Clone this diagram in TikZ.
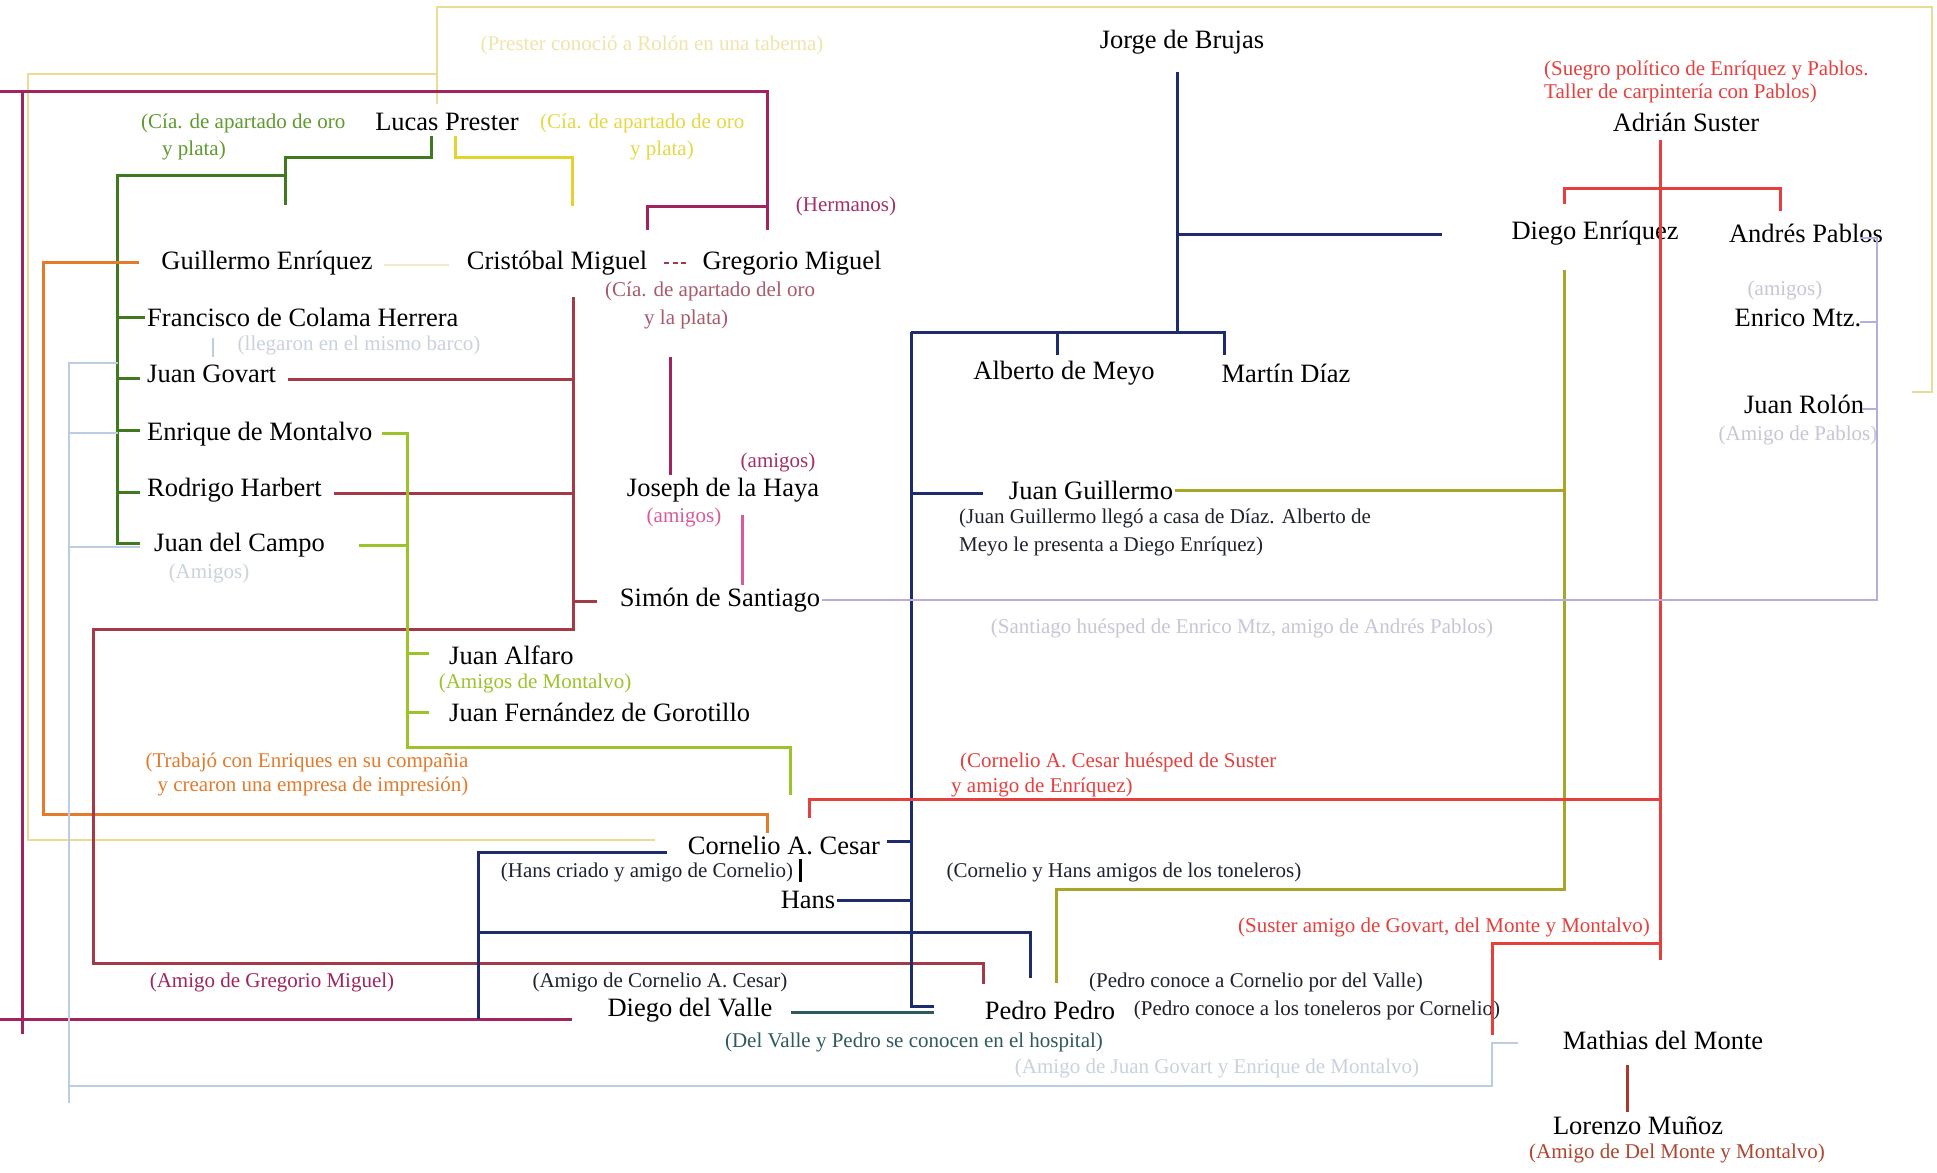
\documentclass[tikz,border=0pt]{standalone}
\usepackage{fontspec}
\setmainfont{Liberation Serif}
\definecolor{cYP}{HTML}{EBDC95}
\definecolor{cYPt}{HTML}{F0E4AC}
\definecolor{cPu}{HTML}{A0245E}
\definecolor{cPuT}{HTML}{A3306A}
\definecolor{cGr}{HTML}{3F7A1F}
\definecolor{cGrT}{HTML}{5E9A2E}
\definecolor{cYe}{HTML}{E3D32C}
\definecolor{cYeT}{HTML}{E6D845}
\definecolor{cOr}{HTML}{E27B2C}
\definecolor{cPB}{HTML}{BACDE4}
\definecolor{cPBt}{HTML}{C9D2DE}
\definecolor{cMa}{HTML}{A33A45}
\definecolor{cYG}{HTML}{9CC32B}
\definecolor{cNa}{HTML}{1E2C6E}
\definecolor{cOl}{HTML}{A9A52A}
\definecolor{cRe}{HTML}{E5403E}
\definecolor{cLa}{HTML}{B9ABDA}
\definecolor{cLaT}{HTML}{CAC4D8}
\definecolor{cPi}{HTML}{D95A9C}
\definecolor{cCr}{HTML}{EEEACB}
\definecolor{cBr}{HTML}{A8382E}
\definecolor{cBrT}{HTML}{B0452F}
\definecolor{cTe}{HTML}{2F5A5C}
\definecolor{cDk}{HTML}{1F2230}
\definecolor{cMv}{HTML}{A85A6A}
\begin{document}
\begin{tikzpicture}[x=1pt,y=-1pt,
  nm/.style={font=\fontsize{26.5}{30}\selectfont, inner sep=2pt, text=black},
  nt/.style={font=\fontsize{21}{26}\selectfont, inner sep=1pt},
  ln/.style={line width=3pt},
  lnthin/.style={line width=2.3pt}]
\fill[white] (0,0) rectangle (1937,1172);
\useasboundingbox (0,0) rectangle (1937,1172);

% ---------- names ----------
\node[nm] (jorge) at (1182,42) {Jorge de Brujas};
\node[nm] (lucas) at (447,122) {Lucas Prester};
\node[nm] (suster) at (1686,122) {Adrián Suster};
\node[nm] (guillermo) at (267,263) {Guillermo Enríquez};
\node[nm] (cristobal) at (557,263) {Cristóbal Miguel};
\node[nm] (gregorio) at (792,263) {Gregorio Miguel};
\node[nm] (diegoe) at (1595,233) {Diego Enríquez};
\node[nm] (andres) at (1806,233) {Andrés Pablos};
\node[nm,anchor=west] (francisco) at (145,317) {Francisco de Colama Herrera};
\node[nm,anchor=west] (govart) at (145,374) {Juan Govart};
\node[nm,anchor=west] (montalvo) at (145,434) {Enrique de Montalvo};
\node[nm,anchor=west] (rodrigo) at (145,490) {Rodrigo Harbert};
\node[nm,anchor=west] (campo) at (152,545) {Juan del Campo};
\node[nm] (alberto) at (1064,373) {Alberto de Meyo};
\node[nm] (martin) at (1286,373) {Martín Díaz};
\node[nm] (enrico) at (1798,318) {Enrico Mtz.};
\node[nm] (rolon) at (1804,404) {Juan Rolón};
\node[nm] (joseph) at (723,490) {Joseph de la Haya};
\node[nm] (jguillermo) at (1091,490) {Juan Guillermo};
\node[nm] (simon) at (720,600) {Simón de Santiago};
\node[nm,anchor=west] (alfaro) at (447,655) {Juan Alfaro};
\node[nm,anchor=west] (fernandez) at (447,712) {Juan Fernández de Gorotillo};
\node[nm] (cornelio) at (784,845) {Cornelio A. Cesar};
\node[nm] (hans) at (808,900) {Hans};
\node[nm] (diegov) at (690,1010) {Diego del Valle};
\node[nm] (pedro) at (1050,1010) {Pedro Pedro};
\node[nm] (mathias) at (1663,1040) {Mathias del Monte};
\node[nm] (lorenzo) at (1638,1126) {Lorenzo Muñoz};

% ---------- notes ----------
\node[nt,text=cYPt] (nprester) at (652,45) {(Prester conoció a Rolón en una taberna)};
\node[nt,text=cGrT,align=left,anchor=west,font=\fontsize{21}{27}\selectfont] (ncia1) at (140,137) {(Cía. de apartado de oro\\\hspace*{21pt}y plata)};
\node[nt,text=cYeT,align=left,anchor=west,font=\fontsize{21}{27}\selectfont] (ncia2) at (539,137) {(Cía. de apartado de oro\\\hspace*{90pt}y plata)};
\node[nt,text=cPuT] (nherm) at (846,206) {(Hermanos)};
\node[nt,text=cMv,align=left,anchor=west,font=\fontsize{21}{28}\selectfont] (ncia3) at (604,305) {(Cía. de apartado del oro\\\hspace*{39pt}y la plata)};
\node[nt,text=cPBt] (nbarco) at (359,345) {(llegaron en el mismo barco)};
\node[nt,text=cRe,align=left,anchor=west,font=\fontsize{21}{23}\selectfont] (nsuegro) at (1543,82) {(Suegro político de Enríquez y Pablos.\\Taller de carpintería con Pablos)};
\node[nt,text=cLaT] (namigosE) at (1785,290) {(amigos)};
\node[nt,text=cLaT] (npablos) at (1798,435) {(Amigo de Pablos)};
\node[nt,text=cPuT] (namigosJ1) at (778,462) {(amigos)};
\node[nt,text=cPi] (namigosJ2) at (684,517) {(amigos)};
\node[nt,text=cDk,align=left,anchor=west,font=\fontsize{21}{28}\selectfont] (njg) at (958,532) {(Juan Guillermo llegó a casa de Díaz. Alberto de\\Meyo le presenta a Diego Enríquez)};
\node[nt,text=cPBt] (namigosC) at (209,573) {(Amigos)};
\node[nt,text=cLaT] (nsantiago) at (1242,628) {(Santiago huésped de Enrico Mtz, amigo de Andrés Pablos)};
\node[nt,text=cYG] (nmontalvo) at (535,683) {(Amigos de Montalvo)};
\node[nt,text=cOr,align=center,font=\fontsize{21}{24}\selectfont] (ntrabajo) at (307,774) {(Trabajó con Enriques en su compañia\\\hspace*{12pt}y crearon una empresa de impresión)};
\node[nt,text=cRe,align=left,anchor=west,font=\fontsize{21}{25}\selectfont] (ncorn) at (950,775) {\hspace*{9pt}(Cornelio A. Cesar huésped de Suster\\y amigo de Enríquez)};
\node[nt,text=cDk] (nhans) at (647,872) {(Hans criado y amigo de Cornelio)};
\node[nt,text=cDk] (ntoneleros) at (1124,872) {(Cornelio y Hans amigos de los toneleros)};
\node[nt,text=cRe] (nsuster) at (1444,927) {(Suster amigo de Govart, del Monte y Montalvo)};
\node[nt,text=cPu] (ngregorio) at (272,982) {(Amigo de Gregorio Miguel)};
\node[nt,text=cDk] (ncamigo) at (660,982) {(Amigo de Cornelio A. Cesar)};
\node[nt,text=cDk] (npedro1) at (1256,982) {(Pedro conoce a Cornelio por del Valle)};
\node[nt,text=cDk] (npedro2) at (1317,1010) {(Pedro conoce a los toneleros por Cornelio)};
\node[nt,text=cTe] (nhospital) at (914,1042) {(Del Valle y Pedro se conocen en el hospital)};
\node[nt,text=cPBt] (ngovart) at (1217,1068) {(Amigo de Juan Govart y Enrique de Montalvo)};
\node[nt,text=cBrT] (nlorenzo) at (1677,1153) {(Amigo de Del Monte y Montalvo)};

% ---------- connectors ----------
% pale yellow (Prester - Rolon / Cornelio)
\draw[lnthin,cYP] (437,104) -- (437,7) -- (1932,7) -- (1932,392) -- (1912,392);
\draw[lnthin,cYP] (437,74) -- (28,74) -- (28,840) -- (655,840);
% purple
\draw[ln,cPu] (0,91) -- (767,91) -- (767,230);
\draw[ln,cPu] (647,230) -- (647,206) -- (767,206);
\draw[ln,cPu] (22,91) -- (22,1034);
\draw[ln,cPu] (0,1019) -- (572,1019);
\draw[ln,cPu] (670,357) -- (670,475);
\draw[line width=1.8pt,cMa,dash pattern=on 5pt off 3.5pt] (664,263) -- (687,263);
% cream
\draw[lnthin,cCr] (384,265) -- (449,265);
% green
\draw[ln,cGr] (431,136) -- (431,157) -- (285,157) -- (285,205);
\draw[ln,cGr] (285,175) -- (117,175) -- (117,543) -- (140,543);
\draw[ln,cGr] (117,317) -- (francisco.west);
\draw[ln,cGr] (117,378) -- (140,378);
\draw[ln,cGr] (117,430) -- (140,430);
\draw[ln,cGr] (117,492) -- (140,492);
% yellow
\draw[ln,cYe] (455,136) -- (455,157) -- (572,157) -- (572,206);
% orange
\draw[ln,cOr] (139,262) -- (43,262) -- (43,814) -- (767,814) -- (767,833);
% pale blue
\draw[lnthin,cPB] (213,338) -- (213,357);
\draw[lnthin,cPB] (118,363) -- (69,363) -- (69,1103);
\draw[lnthin,cPB] (69,433) -- (118,433);
\draw[lnthin,cPB] (69,547) -- (140,547);
\draw[lnthin,cPB] (69,1086) -- (1492,1086) -- (1492,1043) -- (1518,1043);
% maroon
\draw[ln,cMa] (288,379) -- (573,379);
\draw[ln,cMa] (573,297) -- (573,629) -- (93,629) -- (93,963) -- (983,963) -- (983,984);
\draw[ln,cMa] (334,493) -- (573,493);
\draw[ln,cMa] (573,601) -- (597,601);
% pink
\draw[ln,cPi] (742,515) -- (742,585);
% yellow-green
\draw[ln,cYG] (382,433) -- (407,433) -- (407,747) -- (790,747) -- (790,795);
\draw[ln,cYG] (359,545) -- (407,545);
\draw[ln,cYG] (407,653) -- (429,653);
\draw[ln,cYG] (407,712) -- (429,712);
% navy
\draw[ln,cNa] (1177,72) -- (1177,332);
\draw[ln,cNa] (1177,234) -- (1442,234);
\draw[ln,cNa] (911,332) -- (1224,332) -- (1224,355);
\draw[ln,cNa] (1057,332) -- (1057,355);
\draw[ln,cNa] (911,332) -- (911,1006) -- (934,1006);
\draw[ln,cNa] (911,493) -- (983,493);
\draw[ln,cNa] (887,841) -- (911,841);
\draw[ln,cNa] (hans.east) -- (hans.east -| 911,0);
\draw[ln,cNa] (667,852) -- (478,852) -- (478,1019);
\draw[ln,cNa] (478,932) -- (1030,932) -- (1030,978);
\draw[line width=3pt,black] (800,859) -- (800,882);
\draw[ln,cTe] (791,1012) -- (934,1012);
% olive
\draw[ln,cOl] (jguillermo.east) -- (jguillermo.east -| 1564,0);
\draw[ln,cOl] (1564,270) -- (1564,889) -- (1056,889) -- (1056,983);
% red
\draw[ln,cRe] (1660,140) -- (1660,960);
\draw[ln,cRe] (1564,204) -- (1564,188) -- (1780,188) -- (1780,211);
\draw[ln,cRe] (1660,799) -- (809,799) -- (809,818);
\draw[ln,cRe] (1660,943) -- (1492,943) -- (1492,1035);
% brown
\draw[ln,cBr] (1627,1065) -- (1627,1112);
% lavender
\draw[lnthin,cLa] (simon.east) -- (simon.east -| 1877,0) -- (1877,238) -- (1860,238);
\draw[lnthin,cLa] (1860,322) -- (1877,322);
\draw[lnthin,cLa] (1862,409) -- (1877,409);
\end{tikzpicture}
\end{document}
